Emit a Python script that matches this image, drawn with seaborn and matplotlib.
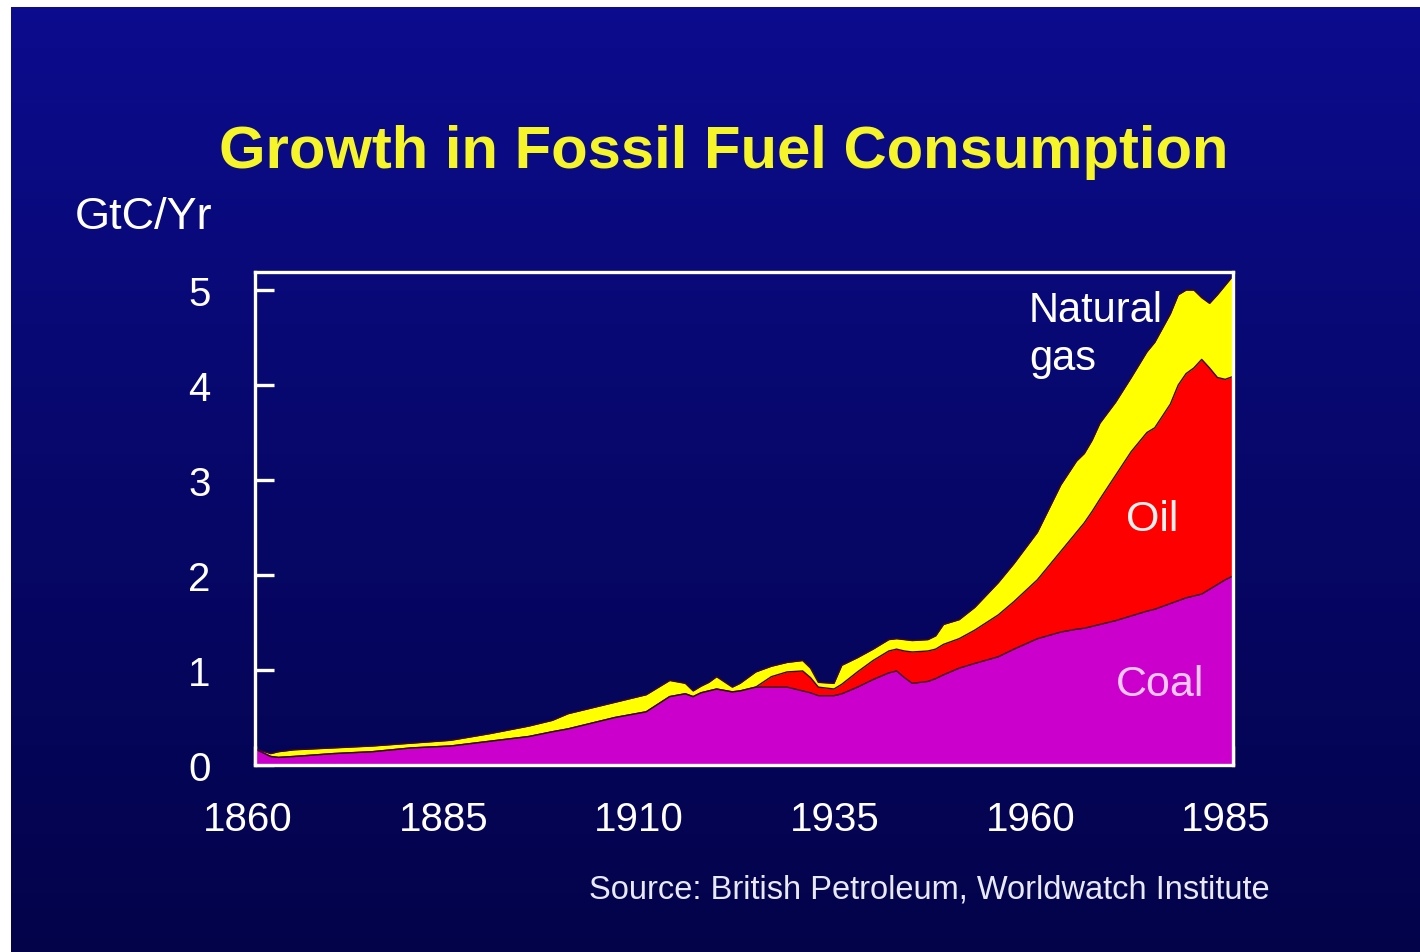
"""
Growth in Fossil Fuel Consumption - stacked area chart (coal, oil, natural gas).
"""
import numpy as np
import pandas as pd
import matplotlib.pyplot as plt
import matplotlib.transforms as mtransforms
from matplotlib.colors import LinearSegmentedColormap
import seaborn as sns

# --- Data (GtC/Yr) ---
years = [1860, 1862, 1863, 1865, 1870, 1875, 1880, 1885, 1890, 1895, 1898, 1900,
         1903, 1906, 1910, 1913, 1915, 1916, 1917, 1918, 1919, 1921, 1922, 1924,
         1926, 1928, 1930, 1931, 1932, 1934, 1935, 1937, 1939, 1941, 1942, 1943,
         1944, 1946, 1947, 1948, 1950, 1952, 1955, 1957, 1960, 1963, 1965, 1966,
         1967, 1968, 1970, 1972, 1974, 1975, 1977, 1978, 1979, 1980, 1981, 1982,
         1983, 1984, 1985]
coal = [0.17, 0.09, 0.08, 0.09, 0.12, 0.14, 0.18, 0.20, 0.25, 0.30, 0.35, 0.38,
        0.44, 0.50, 0.56, 0.72, 0.75, 0.72, 0.76, 0.78, 0.80, 0.77, 0.78, 0.82,
        0.82, 0.82, 0.78, 0.76, 0.73, 0.73, 0.75, 0.82, 0.90, 0.97, 0.99, 0.92,
        0.86, 0.88, 0.91, 0.95, 1.02, 1.07, 1.14, 1.22, 1.33, 1.40, 1.43, 1.44,
        1.46, 1.48, 1.52, 1.57, 1.62, 1.64, 1.70, 1.73, 1.76, 1.78, 1.80, 1.85,
        1.90, 1.95, 1.99]
oil = [0.00, 0.00, 0.00, 0.00, 0.00, 0.00, 0.00, 0.00, 0.00, 0.00, 0.00, 0.00,
       0.00, 0.00, 0.00, 0.00, 0.00, 0.00, 0.00, 0.00, 0.00, 0.00, 0.00, 0.00,
       0.11, 0.16, 0.21, 0.16, 0.09, 0.07, 0.10, 0.16, 0.20, 0.23, 0.23, 0.28,
       0.33, 0.32, 0.31, 0.32, 0.31, 0.35, 0.44, 0.50, 0.62, 0.85, 1.02, 1.11,
       1.21, 1.32, 1.53, 1.73, 1.88, 1.91, 2.10, 2.27, 2.36, 2.40, 2.47, 2.33,
       2.18, 2.11, 2.10]
gas = [0.00, 0.03, 0.06, 0.07, 0.06, 0.06, 0.05, 0.06, 0.08, 0.11, 0.12, 0.16,
       0.16, 0.16, 0.18, 0.17, 0.11, 0.06, 0.07, 0.09, 0.13, 0.05, 0.08, 0.16,
       0.11, 0.10, 0.11, 0.10, 0.05, 0.06, 0.20, 0.15, 0.12, 0.12, 0.11, 0.12,
       0.12, 0.12, 0.14, 0.21, 0.20, 0.24, 0.34, 0.40, 0.50, 0.70, 0.75, 0.73,
       0.75, 0.80, 0.77, 0.78, 0.85, 0.90, 0.95, 0.95, 0.88, 0.82, 0.65, 0.68,
       0.87, 0.99, 1.06]
x_ticks = [1860, 1885, 1910, 1935, 1960, 1985]
y_ticks = [0, 1, 2, 3, 4, 5]

df = pd.DataFrame({'year': years, 'Coal': coal, 'Oil': oil, 'Natural gas': gas})
df['coal_top'] = df['Coal']
df['oil_top'] = df['Coal'] + df['Oil']
df['gas_top'] = df['oil_top'] + df['Natural gas']

sns.set_theme(style='white')
plt.rcParams['font.family'] = ['Liberation Sans', 'DejaVu Sans']

W, H = 1420, 953
fig = plt.figure(figsize=(W / 100, H / 100), dpi=100, facecolor='white')

# gradient background (white strips at top/left like the scanned slide)
bg = fig.add_axes([11 / W, 0, 1 - 11 / W, 1 - 8 / H], zorder=0)
cmap = LinearSegmentedColormap.from_list('slide', ['#0c0c8e', '#07076a', '#03034a'])
bg.imshow(np.linspace(0, 1, 256).reshape(-1, 1), aspect='auto', cmap=cmap,
          extent=[0, 1, 0, 1])
bg.axis('off')

ax = fig.add_axes([255 / W, 1 - 766 / H, (1233 - 255) / W, (766 - 273) / H], zorder=1)
ax.patch.set_alpha(0)

ax.stackplot(df['year'], df['Coal'], df['Oil'], df['Natural gas'],
             colors=['#cc00cc', '#ff0000', '#ffff00'], linewidth=0)
for col in ['coal_top', 'oil_top', 'gas_top']:
    sns.lineplot(data=df, x='year', y=col, ax=ax, color='#3a0830', lw=1.0)

ax.set_xlim(1860, 1985)
ax.set_ylim(0, 5.19)
ax.set_xticks(x_ticks)
ax.set_yticks(y_ticks)
ax.set_xlabel('')
ax.set_ylabel('')
ax.grid(False)
for sp in ax.spines.values():
    sp.set_color('white')
    sp.set_linewidth(2.4)
ax.tick_params(axis='both', direction='in', length=14, width=2.4, color='white',
               labelcolor='white', labelsize=29, bottom=True, left=True,
               top=False, right=False)
ax.tick_params(axis='x', pad=25)
ax.tick_params(axis='y', pad=32)
shift = mtransforms.ScaledTranslation(-7 / 100, 0, fig.dpi_scale_trans)
for lbl in ax.get_xticklabels():
    lbl.set_transform(lbl.get_transform() + shift)

# series labels
ax.text(1958.9, 4.67, 'Natural', color='white', fontsize=30, ha='left', va='baseline')
ax.text(1958.9, 4.17, 'gas', color='white', fontsize=30, ha='left', va='baseline')
ax.text(1971.3, 2.47, 'Oil', color='#fff0f0', fontsize=31, ha='left', va='baseline')
ax.text(1970.0, 0.74, 'Coal', color='#f8c8f8', fontsize=31, ha='left', va='baseline')

fig.text(724 / W, 1 - 153 / H, 'Growth in Fossil Fuel Consumption', ha='center',
         va='center', fontsize=43, fontweight='bold', color='#f5f52a')
fig.text(75 / W, 1 - 218 / H, 'GtC/Yr', ha='left', va='center', fontsize=32.5,
         color='white')
fig.text(1270 / W, 1 - 890 / H, 'Source: British Petroleum, Worldwatch Institute',
         ha='right', va='center', fontsize=23.5, color='#e8e8f8')

fig.savefig('out.png', dpi=100, facecolor=fig.get_facecolor())
